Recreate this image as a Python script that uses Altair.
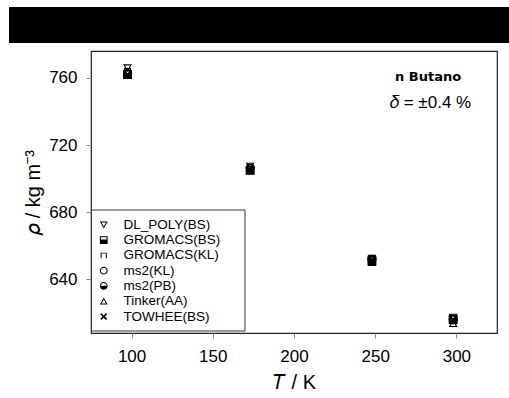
import altair as alt
import pandas as pd

# ---- data ----
temps = [97.5, 173, 248, 298]
series = ["DL_POLY(BS)", "GROMACS(BS)", "GROMACS(KL)", "ms2(KL)", "ms2(PB)", "Tinker(AA)", "TOWHEE(BS)"]
dl_poly_bs = [765.8, 707.2, 652.4, 617.2]
gromacs_bs = [762.0, 705.0, 651.2, 616.0]
gromacs_kl = [764.0, 705.8, 651.6, 615.2]
ms2_kl = [762.6, 706.2, 651.8, 615.8]
ms2_pb = [762.2, 706.0, 652.0, 616.4]
tinker_aa = [763.8, 704.8, 650.2, 613.8]
towhee_bs = [762.0, 705.0, 651.4, 615.6]
values = [dl_poly_bs, gromacs_bs, gromacs_kl, ms2_kl, ms2_pb, tinker_aa, towhee_bs]

x_ticks = [100, 150, 200, 250, 300]
y_ticks = [640, 680, 720, 760]

rows = []
for name, vals in zip(series, values):
    for t, v in zip(temps, vals):
        rows.append({"T": t, "rho": v, "series": name})
df = pd.DataFrame(rows)

# ---- custom marker shapes (filled paths, holes by opposite winding) ----
circ_outer = "M1,0 C1,0.5523 0.5523,1 0,1 C-0.5523,1 -1,0.5523 -1,0 C-1,-0.5523 -0.5523,-1 0,-1 C0.5523,-1 1,-0.5523 1,0 Z"
circ_hole = "M0.74,0 C0.74,-0.409 0.409,-0.74 0,-0.74 C-0.409,-0.74 -0.74,-0.409 -0.74,0 C-0.74,0.409 -0.409,0.74 0,0.74 C0.409,0.74 0.74,0.409 0.74,0 Z"
circ_half_hole = "M0.74,-0.06 C0.74,-0.45 0.409,-0.74 0,-0.74 C-0.409,-0.74 -0.74,-0.45 -0.74,-0.06 Z"
sq_outer = "M-1,-1 L1,-1 L1,1 L-1,1 Z"
sq_half_hole = "M-0.72,-0.72 L-0.72,-0.12 L0.72,-0.12 L0.72,-0.72 Z"
shapes = [
    "M-1,-0.85 L1,-0.85 L0,0.95 Z M-0.575,-0.6 L0,0.435 L0.575,-0.6 Z",  # down triangle
    sq_outer + " " + sq_half_hole,  # half filled square
    "M-0.8,0.75 L-0.8,-0.7 L0.8,-0.7 L0.8,0.75 L0.55,0.75 L0.55,-0.45 L-0.55,-0.45 L-0.55,0.75 Z",  # open-bottom square
    circ_outer + " " + circ_hole,  # open circle
    circ_outer + " " + circ_half_hole,  # half filled circle
    "M-1,0.85 L1,0.85 L0,-0.95 Z M-0.575,0.6 L0,-0.435 L0.575,0.6 Z",  # up triangle
    "M-0.9,-0.6 L-0.6,-0.9 L0,-0.3 L0.6,-0.9 L0.9,-0.6 L0.3,0 L0.9,0.6 L0.6,0.9 L0,0.3 L-0.6,0.9 L-0.9,0.6 L-0.3,0 Z",  # bold x
]

FONT = "Liberation Sans"

x_scale = alt.Scale(domain=[75, 325], nice=False, zero=False)
y_scale = alt.Scale(domain=[608, 776], nice=False, zero=False)

# legend frame (decoration behind the legend)
frame = alt.Chart(pd.DataFrame({"a": [0]})).mark_rect(fill="white", stroke="#333", strokeWidth=1).encode(
    x=alt.value(0.5), x2=alt.value(154), y=alt.value(159), y2=alt.value(280)
)

points = alt.Chart(df).mark_point(filled=True, size=80, color="black", strokeWidth=0, opacity=1).encode(
    x=alt.X("T:Q", scale=x_scale,
            axis=alt.Axis(values=x_ticks, title="𝑇 / K")),
    y=alt.Y("rho:Q", scale=y_scale,
            axis=alt.Axis(values=y_ticks, title="𝜌 / kg m⁻³")),
    shape=alt.Shape("series:N",
                    scale=alt.Scale(domain=series, range=shapes),
                    sort=series,
                    legend=alt.Legend(
                        orient="none", legendX=0, legendY=161, title=None,
                        labelFont=FONT, labelFontSize=13.5, labelColor="black",
                        symbolSize=60, symbolFillColor="black", symbolStrokeWidth=0,
                        rowPadding=0.3, padding=6, labelOffset=13,
                    )),
)

bar = alt.Chart(pd.DataFrame({"a": [0]})).mark_rect(color="black").encode(
    x=alt.value(-82), x2=alt.value(418), y=alt.value(-44), y2=alt.value(-8)
)

label1 = alt.Chart(pd.DataFrame({"t": ["n Butano"]})).mark_text(
    font="DejaVu Sans", fontSize=13, fontWeight=600, align="left", baseline="middle", color="black"
).encode(text="t:N", x=alt.value(304), y=alt.value(26))

label2 = alt.Chart(pd.DataFrame({"t": ["𝛿 = ±0.4 %"]})).mark_text(
    font=FONT, fontSize=17, align="left", baseline="middle", color="black"
).encode(text="t:N", x=alt.value(299), y=alt.value(52))

chart = alt.layer(bar, frame, points, label1, label2).properties(
    width=406, height=282,
    autosize=alt.AutoSizeParams(type="none"),
    padding={"left": 91, "top": 51, "right": 12, "bottom": 65},
    background="white",
).configure_view(
    stroke="#222", strokeWidth=1.2
).configure_axis(
    grid=False, domain=False, ticks=True, tickColor="#888", tickSize=5, tickWidth=1,
    labelFont=FONT, labelFontSize=17, labelColor="black",
    titleFont=FONT, titleFontSize=20, titleFontWeight="normal", titleColor="black",
).configure_axisX(
    labelPadding=10, titlePadding=8
).configure_axisY(
    labelPadding=9, titlePadding=5
)

chart.save("out.html", embed_options={"renderer": "svg", "actions": False})
